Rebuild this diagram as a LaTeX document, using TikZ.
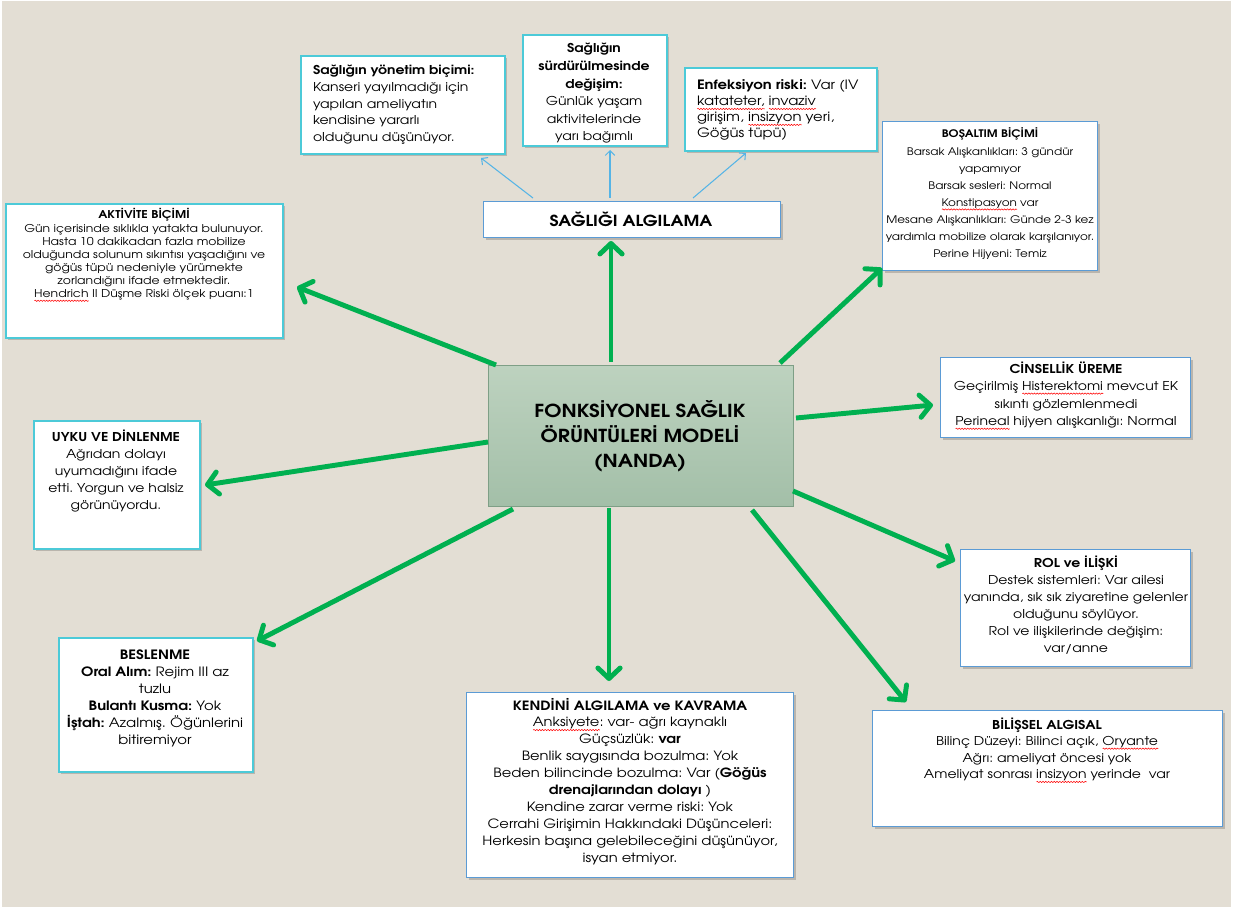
\documentclass[tikz,border=0pt]{standalone}
\usepackage{fontspec}
\setmainfont{texgyreadventor}[Extension=.otf, UprightFont=*-regular, BoldFont=*-bold, ItalicFont=*-italic, BoldItalicFont=*-bolditalic, FakeStretch=1.15]
\usetikzlibrary{arrows.meta,decorations.pathmorphing,shadows}
\definecolor{bg}{HTML}{E3DED4}
\definecolor{gr}{HTML}{00B050}
\definecolor{cy}{HTML}{4CCAD8}
\definecolor{bl}{HTML}{5B9BD5}
\definecolor{lb}{HTML}{55B4E6}
\definecolor{ctop}{HTML}{BDD2BF}
\definecolor{cbot}{HTML}{A3BFA8}
\definecolor{cbd}{HTML}{7E9F86}
\newlength\sqw
\newcommand\sq[1]{\settowidth\sqw{#1}\rlap{\begin{tikzpicture}[baseline=0pt,x=1pt,y=1pt]\draw[red,line width=0.45pt,decorate,decoration={snake,amplitude=0.55pt,segment length=2.4pt}] (0pt,-2.6pt) -- (\sqw,-2.6pt);\end{tikzpicture}}#1}
\newcommand\bx[6]{\node[#6, anchor=north west, minimum width={(#4-#2)*0.03cm}, minimum height={(#5-#3)*0.03cm}] (#1) at (#2,#3) {};}
\tikzset{
  shd/.style={drop shadow={shadow xshift=1.6pt, shadow yshift=-1.6pt, fill=black, opacity=0.18}},
  cbox/.style={draw=cy, line width=1.3pt, fill=white, shd},
  bbox/.style={draw=bl, line width=1.1pt, fill=white, shd},
  t/.style={inner sep=0pt, outer sep=0pt, align=center, font=\fontsize{10.4}{14.5}\selectfont},
  tl/.style={t, align=left},
  sh/.style={yshift=-#1pt},
  garrow/.style={draw=gr, line width=4.2pt, -{Straight Barb[length=9pt,width=19pt,round]}},
  larrow/.style={draw=lb, line width=0.9pt, -{Straight Barb[length=4pt,width=8pt]}}
}
\begin{document}
\frenchspacing
\begin{tikzpicture}[x=0.03cm, y=-0.03cm]
\fill[white] (0,0) rectangle (1235,907);
\fill[bg] (2,1) rectangle (1231,907);
\useasboundingbox (0,0) rectangle (1235,907);

% centre
\node[draw=cbd, line width=0.9pt, top color=ctop, bottom color=cbot, anchor=north west,
      minimum width={305*0.03cm}, minimum height={141*0.03cm}] (c) at (488,365) {};
\node[t, font=\bfseries\fontsize{15.3}{21.3}\selectfont] (c-t) at (640,436) {FONKSİYONEL SAĞLIK\\ÖRÜNTÜLERİ MODELİ\\(NANDA)};

% saglik algilama
\bx{sa}{483}{201}{780}{237}{bbox}
\node[t, font=\bfseries\fontsize{13}{16}\selectfont] (sa-t) at (631,219) {SAĞLIĞI ALGILAMA};

% top boxes
\bx{yon}{300}{55}{504}{153}{cbox}
\node[tl, anchor=base west, font=\fontsize{10.4}{14.2}\selectfont, sh=56.8] (yon-t) at (313,75) {\textbf{Sağlığın yönetim biçimi:}\\Kanseri yayılmadığı için\\yapılan ameliyatın\\kendisine yararlı\\olduğunu düşünüyor.};

\bx{sur}{522}{34}{666}{145}{cbox}
\node[t, anchor=base, font=\fontsize{10.4}{15}\selectfont, sh=75] (sur-t) at (594,53) {\textbf{Sağlığın}\\\textbf{sürdürülmesinde}\\\textbf{değişim:}\\Günlük yaşam\\aktivitelerinde\\yarı bağımlı};

\bx{enf}{684}{67}{876}{150}{cbox}
\node[tl, anchor=base west, font=\fontsize{11}{13.6}\selectfont, sh=40.8] (enf-t) at (697,90) {\textbf{Enfeksiyon riski:} Var (IV\\\sq{katateter,} \sq{invaziv}\\girişim, \sq{insizyon} yeri,\\Göğüs tüpü)};

% side boxes
\bx{akt}{5}{203}{282}{337}{cbox}
\node[t, anchor=base, font=\fontsize{9.2}{11.2}\selectfont, sh=67.2] (akt-t) at (144,219) {\textbf{AKTİVİTE BİÇİMİ}\\Gün içerisinde sıklıkla yatakta bulunuyor.\\Hasta 10 dakikadan fazla mobilize\\olduğunda solunum sıkıntısı yaşadığını ve\\göğüs tüpü nedeniyle yürümekte\\zorlandığını ifade etmektedir.\\\sq{Hendrich} II Düşme Riski ölçek puanı:1};

\bx{bos}{882}{121}{1097}{270}{bbox}
\node[t, anchor=base, font=\fontsize{8.9}{14.6}\selectfont, sh=102.2] (bos-t) at (990,138) {\textbf{BOŞALTIM BİÇİMİ}\\Barsak Alışkanlıkları: 3 gündür\\yapamıyor\\Barsak sesleri: Normal\\\sq{Konstipasyon} var\\Mesane Alışkanlıkları: Günde 2-3 kez\\yardımla mobilize olarak karşılanıyor.\\Perine Hijyeni: Temiz};

\bx{cin}{940}{357}{1190}{437}{bbox}
\node[t, anchor=base, font=\fontsize{10.4}{15}\selectfont, sh=45] (cin-t) at (1066,373) {\textbf{CİNSELLİK ÜREME}\\Geçirilmiş \sq{Histerektomi} mevcut EK\\sıkıntı gözlemlenmedi\\\sq{Perineal} hijyen alışkanlığı: Normal};

\bx{uyk}{33}{420}{199}{548}{cbox}
\node[t, anchor=base, font=\fontsize{10.4}{14.7}\selectfont, sh=58.8] (uyk-t) at (116,441) {\textbf{UYKU VE DİNLENME}\\Ağrıdan dolayı\\uyumadığını ifade\\etti. Yorgun ve halsiz\\görünüyordu.};

\bx{rol}{960}{549}{1190}{666}{bbox}
\node[t, anchor=base, font=\fontsize{10.4}{14.6}\selectfont, sh=73] (rol-t) at (1076,567) {\textbf{ROL ve İLİŞKİ}\\Destek sistemleri: Var ailesi\\yanında, sık sık ziyaretine gelenler\\olduğunu söylüyor.\\Rol ve ilişkilerinde değişim:\\var/anne};

\bx{bes}{58}{637}{252}{771}{cbox}
\node[t, anchor=base, font=\fontsize{11}{14.6}\selectfont, sh=73] (bes-t) at (155,659) {\textbf{BESLENME}\\\textbf{Oral Alım:} Rejim III az\\tuzlu\\\textbf{Bulantı Kusma:} Yok\\\textbf{İştah:} Azalmış. Öğünlerini\\bitiremiyor};

\bx{ken}{466}{692}{793}{877}{bbox}
\node[t, anchor=base, font=\fontsize{10.9}{14.5}\selectfont, sh=130.5] (ken-t) at (630,710) {\textbf{KENDİNİ ALGILAMA ve KAVRAMA}\\\sq{Anksiyete}: var- ağrı kaynaklı\\Güçsüzlük: \textbf{var}\\Benlik saygısında bozulma: Yok\\Beden bilincinde bozulma: Var (\textbf{Göğüs}\\\textbf{drenajlarından dolayı} )\\Kendine zarar verme riski: Yok\\Cerrahi Girişimin Hakkındaki Düşünceleri:\\Herkesin başına gelebileceğini düşünüyor,\\isyan etmiyor.};

\bx{bil}{872}{710}{1222}{826}{bbox}
\node[t, anchor=base, font=\fontsize{10.4}{14.2}\selectfont, sh=42.6] (bil-t) at (1047,729) {\textbf{BİLİŞSEL ALGISAL}\\Bilinç Düzeyi: Bilinci açık, \sq{Oryante}\\Ağrı: ameliyat öncesi yok\\Ameliyat sonrası \sq{insizyon} yerinde\ \ var};

% connector end points
\coordinate (s1) at (611,362); \coordinate (e1) at (611,241);
\coordinate (s2) at (496,365); \coordinate (e2) at (297,287);
\coordinate (s3) at (780,363); \coordinate (e3) at (882,268);
\coordinate (s4) at (796,418); \coordinate (e4) at (933,405);
\coordinate (s5) at (488,442); \coordinate (e5) at (205,485);
\coordinate (s6) at (793,491); \coordinate (e6) at (955,561);
\coordinate (s7) at (609,508); \coordinate (e7) at (609,681);
\coordinate (s8) at (513,509); \coordinate (e8) at (257,641);
\coordinate (s9) at (752,510); \coordinate (e9) at (906,702);
\draw[garrow] (s1) -- (e1);
\draw[garrow] (s2) -- (e2);
\draw[garrow] (s3) -- (e3);
\draw[garrow] (s4) -- (e4);
\draw[garrow] (s5) -- (e5);
\draw[garrow] (s6) -- (e6);
\draw[garrow] (s7) -- (e7);
\draw[garrow] (s8) -- (e8);
\draw[garrow] (s9) -- (e9);

\coordinate (l1s) at (533,198); \coordinate (l1e) at (481,158);
\coordinate (l2s) at (610,198); \coordinate (l2e) at (610,150);
\coordinate (l3s) at (693,198); \coordinate (l3e) at (746,153);
\draw[larrow] (l1s) -- (l1e);
\draw[larrow] (l2s) -- (l2e);
\draw[larrow] (l3s) -- (l3e);
\end{tikzpicture}
\end{document}
